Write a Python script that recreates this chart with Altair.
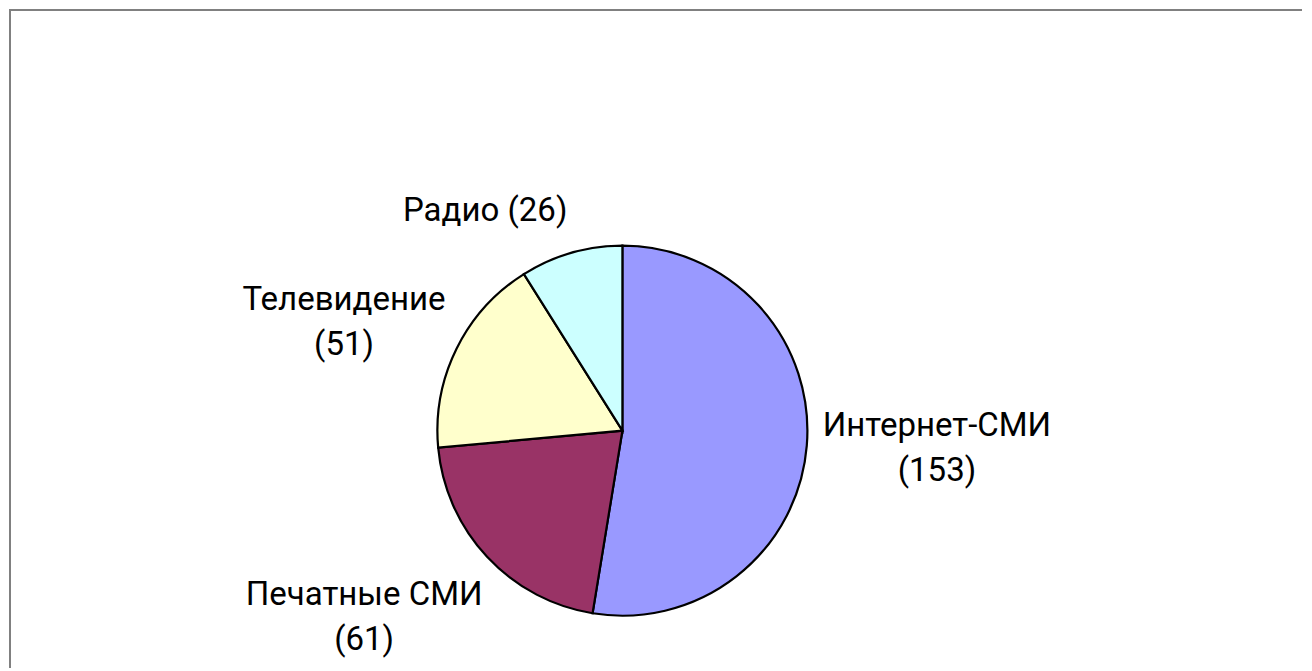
import altair as alt
import pandas as pd

# ---- data ----
categories = ["Интернет-СМИ", "Печатные СМИ", "Телевидение", "Радио"]
values = [153, 61, 51, 26]
label_lines = [["Интернет-СМИ", "(153)"], ["Печатные СМИ", "(61)"],
               ["Телевидение", "(51)"], ["Радио (26)"]]

# ---- style / layout ----
colors = ["#9999FF", "#993366", "#FFFFCC", "#CCFFFF"]
label_radius = [314.6, 306.2, 307.6, 259.1]   # distance of label (first line) from pie centre
label_shift_deg = [-5.5, 10.5, -1.1, -15.9]   # angular nudge from slice mid-angle
W, H = 1294, 660
CX, CY, R = 614.4, 422.7, 185
FONT = "Roboto"

df = pd.DataFrame({
    "cat": categories,
    "value": values,
    "idx": list(range(len(categories))),
    "label": label_lines,
    "lr": label_radius,
    "shift": label_shift_deg,
})

color_scale = alt.Scale(domain=categories, range=colors)

pie = alt.Chart(df).mark_arc(radius=R, stroke="#000000", strokeWidth=2.2).encode(
    theta=alt.Theta("value:Q", stack=True),
    color=alt.Color("cat:N", scale=color_scale, legend=None),
    order=alt.Order("idx:Q"),
    x=alt.value(CX),
    y=alt.value(CY),
)

labels = alt.Chart(df).transform_window(
    cum="sum(value)", sort=[alt.SortField("idx")]
).transform_joinaggregate(
    total="sum(value)"
).transform_calculate(
    ang="(datum.cum - datum.value/2) / datum.total * 2 * PI + datum.shift * PI / 180"
).mark_text(
    font=FONT, fontSize=33, color="#000000", align="center", baseline="middle",
    lineHeight=45
).encode(
    theta=alt.Theta("ang:Q", scale=None, stack=False),
    radius=alt.Radius("lr:Q", scale=None),
    text=alt.Text("label"),
    x=alt.value(CX),
    y=alt.value(CY),
)

frame_df = pd.DataFrame({"k": [0]})
top_line = alt.Chart(frame_df).mark_rule(color="#808080", strokeWidth=2).encode(
    x=alt.value(2), x2=alt.value(W), y=alt.value(2)
)
left_line = alt.Chart(frame_df).mark_rule(color="#808080", strokeWidth=2).encode(
    x=alt.value(2), y=alt.value(1), y2=alt.value(H)
)

chart = alt.layer(top_line, left_line, pie, labels).properties(
    width=W, height=H, autosize=alt.AutoSizeParams(type="none"), padding=0,
    background="#FFFFFF"
).configure_view(stroke=None)

chart.save("out.html", embed_options={"renderer": "svg", "actions": False})
